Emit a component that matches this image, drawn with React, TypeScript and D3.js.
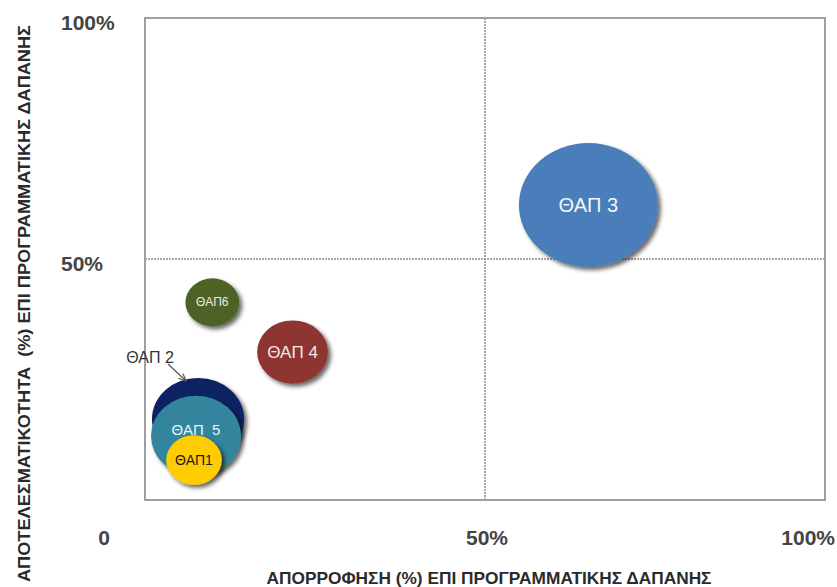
import React, { useEffect } from "react";
import * as d3 from "d3";

const labels = ["ΘΑΠ 3", "ΘΑΠ 4", "ΘΑΠ6", "ΘΑΠ 2", "ΘΑΠ  5", "ΘΑΠ1"];
const absorption = [0.652, 0.217, 0.099, 0.078, 0.075, 0.072];
const effectiveness = [0.612, 0.307, 0.41, 0.168, 0.133, 0.083];
const sizes = [100, 26, 15, 44, 42, 16];
const colors = ["#4A7EBB", "#8E3633", "#4F6228", "#0B2462", "#31859C", "#FFCC00"];
const labelColors = ["#F2F6FB", "#F4E9E9", "#E9EEE0", "#FFFFFF", "#E8F3F6", "#1A1A1A"];
const labelSizes = [20, 17, 12, 0, 15, 14];
const xTicks = [0, 0.5, 1];
const xTickLabels = ["0", "50%", "100%"];
const yTicks = [0.5, 1];
const yTickLabels = ["50%", "100%"];

const W = 837;
const H = 587;
const M = { left: 145, right: 825, top: 18, bottom: 500 };

export default function App() {
  useEffect(() => {
    document.body.style.margin = "0";
  }, []);

  const x = d3.scaleLinear().domain([0, 1]).range([M.left, M.right]);
  const y = d3.scaleLinear().domain([0, 1]).range([M.bottom, M.top]);
  const r = d3.scaleSqrt().domain([0, 100]).range([0, 62]);
  const aspect = 1.12;

  const pts = labels.map((l, i) => ({
    label: l,
    cx: x(absorption[i]),
    cy: y(effectiveness[i]),
    ry: r(sizes[i]),
    rx: r(sizes[i]) * aspect,
    color: colors[i],
    lc: labelColors[i],
    ls: labelSizes[i],
  }));
  const p2 = pts[3];

  return (
    <svg width={W} height={H} style={{ display: "block" }} fontFamily="'Liberation Sans', Arial, sans-serif">
      <defs>
        <filter id="sh" x="-30%" y="-30%" width="160%" height="160%">
          <feDropShadow dx="3" dy="3" stdDeviation="2" floodColor="#000" floodOpacity="0.6" />
        </filter>
        <marker id="arr" viewBox="0 0 10 10" refX="9" refY="5" markerWidth="7" markerHeight="7" orient="auto">
          <path d="M0,1 L9,5 L0,9" fill="none" stroke="#555" strokeWidth="1.5" />
        </marker>
      </defs>
      <rect width={W} height={H} fill="#fff" />
      {/* grid */}
      <line x1={x(0.5)} x2={x(0.5)} y1={y(0)} y2={y(1)} stroke="#8a8a8a" strokeWidth={1.5} strokeDasharray="2,1" />
      <line x1={x(0)} x2={x(1)} y1={y(0.5)} y2={y(0.5)} stroke="#8a8a8a" strokeWidth={1.5} strokeDasharray="2,1" />
      {/* frame */}
      <rect x={M.left} y={M.top} width={M.right - M.left} height={M.bottom - M.top} fill="none" stroke="#A0A0A0" strokeWidth={2} />
      {/* bubbles */}
      {pts.map((p, i) => (
        <ellipse key={i} cx={p.cx} cy={p.cy} rx={p.rx} ry={p.ry} fill={p.color} filter="url(#sh)" />
      ))}
      {pts.map((p, i) =>
        p.ls > 0 ? (
          <text
            key={"l" + i}
            x={p.cx}
            y={i === 4 ? p.cy - 6 : p.cy}
            textAnchor="middle"
            dominantBaseline="central"
            fontSize={p.ls}
            fill={p.lc}
            style={{ whiteSpace: "pre" }}
          >
            {p.label}
          </text>
        ) : null
      )}
      {/* ΘΑΠ 2 callout */}
      <text x={p2.cx - 48} y={p2.cy - 62} textAnchor="middle" dominantBaseline="central" fontSize={16} fill="#333">
        {p2.label}
      </text>
      <line x1={p2.cx - 30} y1={p2.cy - 55} x2={p2.cx - 12} y2={p2.cy - 38} stroke="#555" strokeWidth={1.2} markerEnd="url(#arr)" />
      {/* y tick labels */}
      {yTicks.map((t, i) => (
        <text key={"yt" + i} x={61} y={y(t) + 4} dominantBaseline="central" fontSize={21} fontWeight="bold" fill="#444">
          {yTickLabels[i]}
        </text>
      ))}
      {/* x tick labels */}
      {xTicks.map((t, i) => (
        <text
          key={"xt" + i}
          x={t === 0 ? 104 : t === 1 ? 835 : x(t) + 2}
          y={537}
          textAnchor={t === 0 ? "middle" : t === 1 ? "end" : "middle"}
          dominantBaseline="central"
          fontSize={21}
          fontWeight="bold"
          fill="#444"
        >
          {xTickLabels[i]}
        </text>
      ))}
      {/* axis titles */}
      <text x={489} y={584} textAnchor="middle" fontSize={17} fontWeight="bold" fill="#2a2a2a" textLength={445} lengthAdjust="spacingAndGlyphs">
        ΑΠΟΡΡΟΦΗΣΗ (%) ΕΠΙ ΠΡΟΓΡΑΜΜΑΤΙΚΗΣ ΔΑΠΑΝΗΣ
      </text>
      <text
        transform={`translate(30, ${(25 + 582) / 2}) rotate(-90)`}
        x={0}
        y={0}
        textAnchor="middle"
        fontSize={17}
        fontWeight="bold"
        fill="#2a2a2a"
        textLength={557}
        lengthAdjust="spacingAndGlyphs"
        style={{ whiteSpace: "pre" }}
      >
        ΑΠΟΤΕΛΕΣΜΑΤΙΚΟΤΗΤΑ  (%) ΕΠΙ ΠΡΟΓΡΑΜΜΑΤΙΚΗΣ ΔΑΠΑΝΗΣ
      </text>
    </svg>
  );
}
